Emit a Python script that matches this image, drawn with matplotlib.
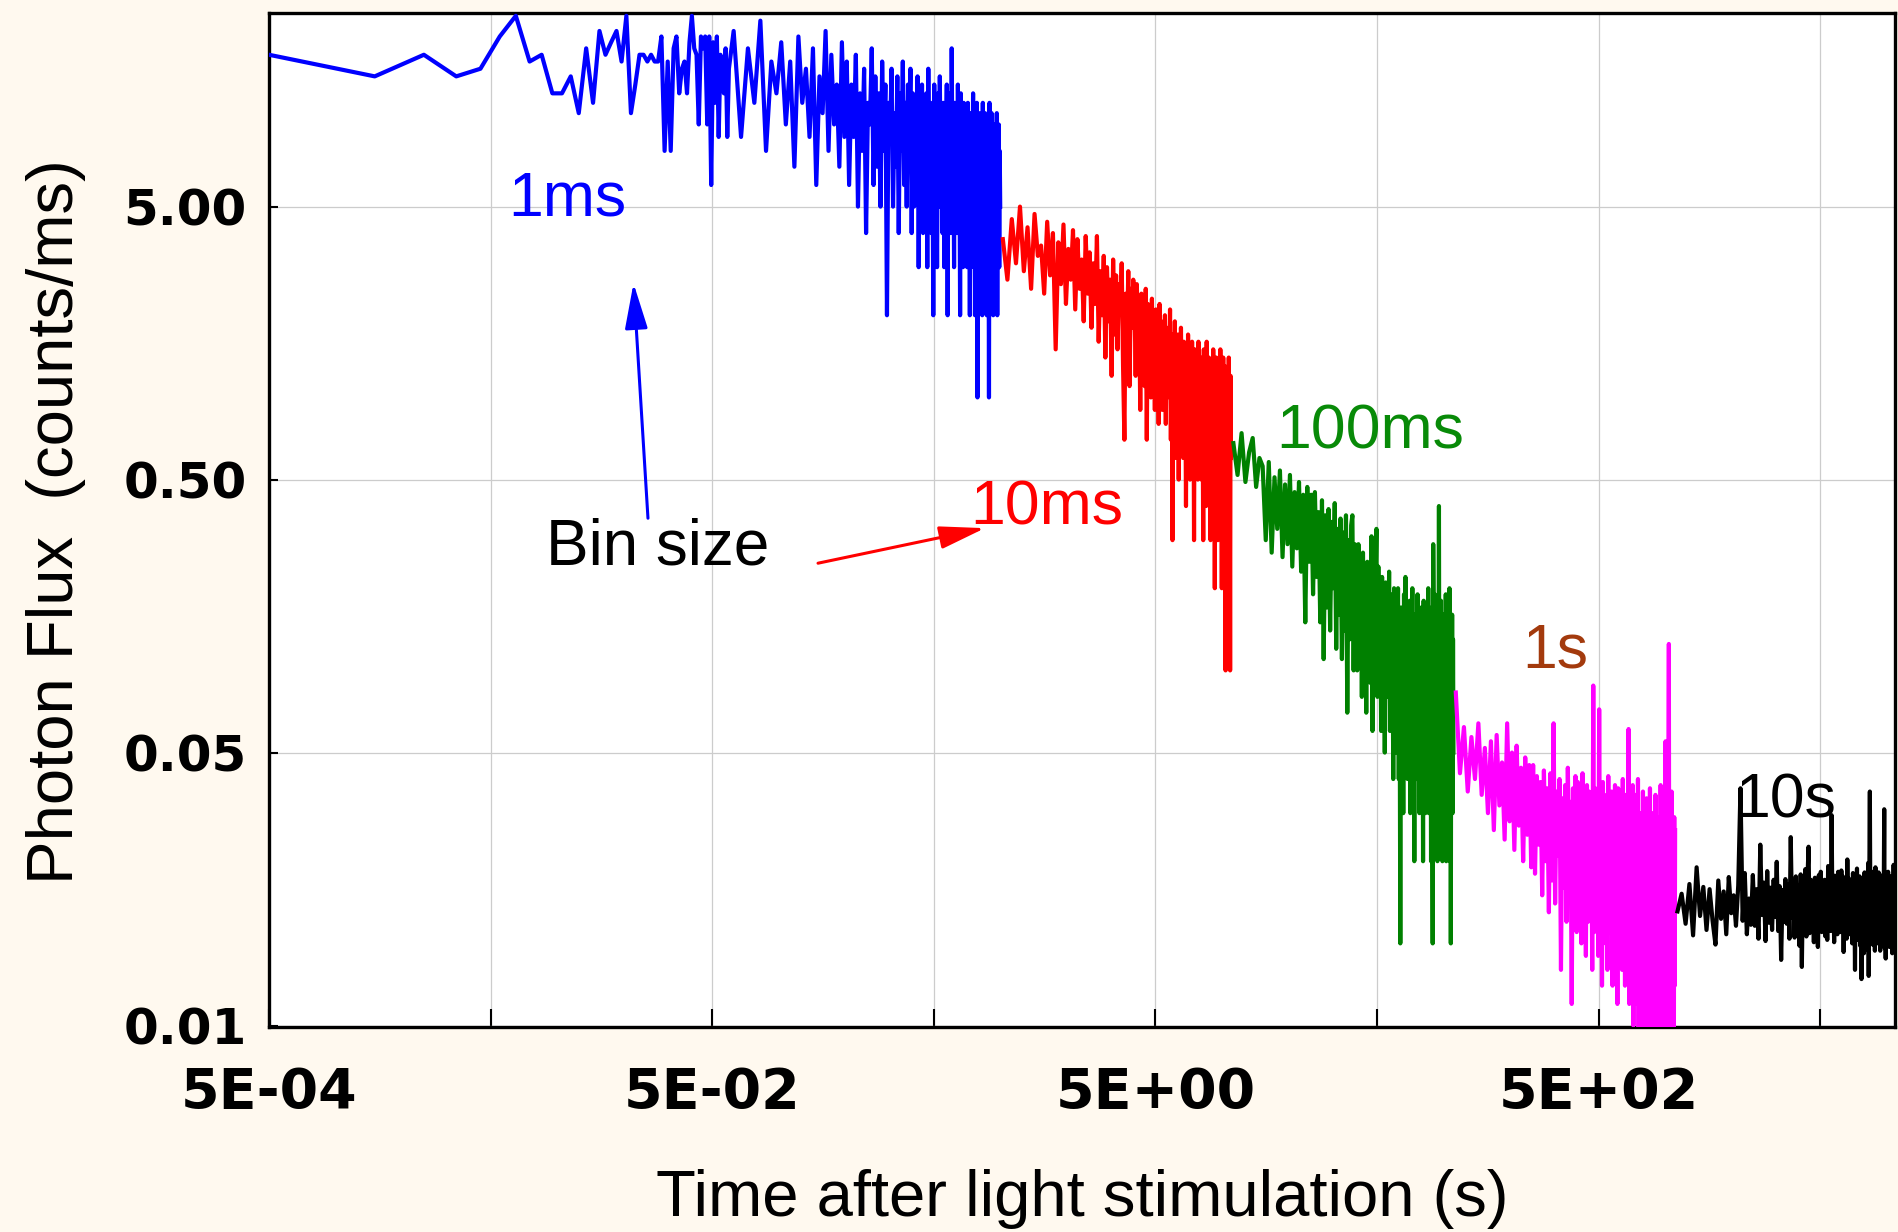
import numpy as np
import matplotlib
matplotlib.use("Agg")
import matplotlib.pyplot as plt
from matplotlib.ticker import NullLocator, NullFormatter

plt.rcParams['font.family'] = 'Liberation Sans'

# photon counts per bin; each list starts at its own time and is sampled evenly
# 1 ms bins, first 60 ms (every bin)
blue_early = [18, 15, 18, 15, 16, 21, 25, 17, 18, 13,
              13, 15, 11, 19, 12, 22, 18, 20, 22, 17,
              25, 11, 14, 18, 18, 17, 18, 17, 17, 21,
              8, 17, 8, 19, 21, 13, 16, 17, 13, 20,
              25, 19, 18, 10, 21, 19, 21, 10, 21, 6,
              20, 12, 21, 9, 18, 15, 13, 19, 9, 16]
# 1 ms bins, 60 ms - 1 s (every 5th bin)
blue_late = [22, 9, 19, 12, 24, 8, 17, 13,
             20, 10, 17, 7, 21, 12, 16, 9, 19, 6, 15, 11, 22, 8, 18, 10, 14, 7, 20, 9,
             17, 6, 14, 9, 18, 5, 13, 8, 16, 4, 12, 10, 19, 6, 15, 7, 13, 5, 17, 8, 14, 2,
             12, 9, 16, 5, 11, 7, 15, 4, 13, 8, 17, 6, 12, 5, 14, 9, 16, 4,
             13, 5, 11, 7, 15, 3, 12, 6, 14, 4, 10, 8, 13, 3, 16, 6, 11, 4, 12, 2,
             14, 7, 10, 3, 13, 5, 15, 6, 9, 4, 12, 3, 11, 7, 14, 2, 10, 5, 13, 4,
             19, 6, 11, 3, 12, 5, 9, 4, 14, 6, 10, 2, 13, 5, 11, 3, 12, 7, 9, 4,
             10, 3, 12, 5, 9, 2, 11, 4, 8, 6, 13, 3, 10, 2, 9, 5, 12, 1, 8, 4,
             11, 3, 10, 6, 9, 2, 12, 4, 7, 3, 11, 5, 9, 2, 10, 3, 8, 1, 12, 4,
             9, 3, 11, 5, 7, 2, 10, 4, 9, 3, 8, 6, 11, 2, 9, 4, 10, 3, 8, 5]
# 10 ms bins, 1 s - 11 s
red_counts = [38, 27, 45, 31, 50, 29, 42, 25, 47, 33,
              36, 24, 44, 28, 40, 15, 37, 26, 43, 22, 35, 27, 41, 21, 38, 25, 32, 19, 39, 24,
              34, 18, 31, 22, 39, 16, 29, 20, 33, 14, 30, 19, 27, 12, 32, 17, 28, 15, 26, 21,
              31, 13, 7, 24, 16, 29, 11, 25, 18, 27,
              23, 12, 26, 15, 21, 9, 24, 14, 20, 11, 25, 7, 22, 13, 19, 10, 23, 12, 18, 9,
              21, 14, 17, 8, 22, 11, 19, 9, 16, 13, 20, 8, 18, 10, 15, 12, 21, 7, 17, 3,
              16, 9, 19, 6, 14, 11, 17, 5, 15, 8, 18, 10, 13, 6, 16, 9, 12, 4, 15, 7,
              17, 8, 11, 5, 14, 9, 16, 6, 13, 3, 15, 7, 12, 10, 14, 5, 16, 8, 11, 6,
              14, 5, 12, 8, 3, 15, 6, 13, 9, 4, 16, 7, 11, 5, 14, 8, 12, 3, 13, 6,
              10, 4, 15, 7, 12, 2, 11, 8, 14, 5, 9, 3, 13, 6, 11, 4, 15, 7, 10, 2,
              12, 5, 14, 3, 9, 6, 13, 1, 11, 4, 12, 7, 10, 2, 14, 5, 9, 1, 12, 6]
# 100 ms bins, 11 s - 111 s
green_counts = [68, 52, 74, 49, 63, 71, 47, 60,
                56, 30, 58, 27, 51, 33, 54, 26, 48, 29, 52, 24, 45, 28, 49, 23, 44, 15, 47, 25,
                44, 19, 45, 22, 38, 15, 42, 11, 37, 17, 39, 14, 35, 20, 41, 12, 33, 16, 36, 11,
                32, 14, 37, 7, 30, 13, 34, 37, 10, 29,
                26, 10, 29, 13, 24, 8, 27, 12, 22, 7, 25, 11, 21, 9, 31, 6, 23, 10, 20, 33,
                8, 24, 9, 19, 6, 22, 11, 18, 5, 21, 8, 17, 10, 23, 6, 19, 9, 16, 4, 20,
                18, 5, 15, 8, 20, 4, 14, 1, 17, 6, 13, 3, 19, 7, 22, 5, 16, 4, 12, 8,
                18, 3, 14, 6, 20, 4, 11, 2, 16, 7, 13, 4, 19, 5, 15, 3, 12, 6, 17, 4,
                14, 2, 18, 5, 11, 3, 16, 6, 13, 4, 20, 3, 15, 5, 12, 2, 17, 4, 1, 29,
                14, 3, 19, 5, 12, 4, 16, 2, 13, 6, 40, 4, 15, 3, 18, 5, 11, 2, 14, 4,
                16, 3, 12, 5, 19, 2, 13, 4, 17, 3, 11, 5, 20, 2, 15, 1, 12, 4, 16, 3, 13, 5]
# 1 s bins, 111 s - 1111 s
magenta_counts = [83, 42, 62, 36, 57, 40, 64, 35,
                  52, 30, 55, 26, 58, 32, 46, 24, 64, 28, 50, 22, 53, 27, 44, 20, 48, 25, 45, 19,
                  45, 18, 41, 23, 39, 15, 43, 20, 37, 13, 42, 17, 64, 14, 36, 21, 40, 8, 34, 16,
                  38, 12, 44, 19, 33, 6, 37, 14, 41, 11,
                  39, 13, 35, 10, 42, 16, 33, 9, 38, 12, 36, 15, 31, 8, 88, 11, 37, 14, 32, 9,
                  72, 12, 34, 7, 39, 13, 30, 10, 35, 8, 41, 11, 29, 14, 36, 7, 33, 12, 38, 9,
                  31, 6, 37, 10, 34, 13, 28, 8, 40, 11, 32, 7, 35, 9, 30, 12, 61, 6, 33, 10,
                  29, 8, 38, 5, 27, 11, 35, 6, 28, 9, 40, 4, 26, 7, 30, 10, 25, 5, 36, 8,
                  27, 6, 29, 4, 34, 9, 24, 5, 28, 7, 37, 3, 26, 8, 30, 5, 27, 10, 25, 4,
                  35, 6, 28, 8, 24, 3, 29, 7, 26, 5, 38, 6, 27, 4, 30, 9, 25, 3, 33, 6,
                  55, 5, 29, 7, 26, 4, 31, 125, 6, 27, 5, 24, 8, 36, 4, 28, 6, 25, 3, 29,
                  7, 26]
# 10 s bins, from 1111 s
black_counts = [131, 152, 118, 165, 107, 190, 126, 161, 112, 158, 121, 99, 170, 123, 155, 108, 175, 129, 150, 116,
                163, 370, 121, 181, 108, 146, 117, 178, 116, 158, 104, 230, 127, 167, 102, 184, 119, 160, 112, 171,
                125, 199, 111, 162, 87, 157, 120, 172, 118, 165, 104, 245, 124, 168, 105, 176, 113, 163, 98, 179,
                82, 169, 121, 187, 106, 174, 226, 109, 171, 117, 163, 101, 174, 128, 156, 97, 178, 122, 183, 110,
                164, 114, 171, 106, 168, 103, 192, 118, 166, 111, 295, 124, 170, 101, 177, 116, 161, 108, 183, 119,
                165, 110, 185, 112, 176, 93, 169, 119, 158, 104, 203, 124, 173, 108, 168, 113, 162, 100, 181, 115,
                164, 80, 172, 111, 188, 103, 157, 114, 176, 98, 169, 74, 153, 106, 167, 92, 182, 105, 171, 118,
                159, 95, 197, 76, 174, 360, 108, 171, 103, 165, 99, 183, 112, 155, 94, 190, 117, 166, 100, 177,
                107, 182, 121, 179, 94, 160, 110, 174, 99, 168, 114, 148, 310, 96, 169, 88, 178, 109, 165, 102,
                183, 113, 171, 97, 165, 119, 176, 103, 158, 92, 174, 109, 194, 101, 167, 97, 162, 111, 173, 106]

bin_labels = ['1ms', '10ms', '100ms', '1s', '10s']


def binned(counts, t0, step, bin_ms):
    # time of each sampled bin (s) and flux in counts/ms
    t = t0 + step * (np.arange(len(counts)) + 0.5)
    return t, np.asarray(counts, dtype=float) / bin_ms


tb1, fb1 = binned(blue_early, 0.0, 0.001, 1)
tb2, fb2 = binned(blue_late, 0.060, 0.005, 1)
t_blue = np.concatenate([tb1, tb2])
f_blue = np.concatenate([fb1, fb2])
t_red, f_red = binned(red_counts, 1.0, 0.05, 10)
t_green, f_green = binned(green_counts, 11.0, 0.5, 100)
t_mag, f_mag = binned(magenta_counts, 111.0, 5.0, 1000)
t_black, f_black = binned(black_counts, 1111.0, 50.0, 10000)

fig = plt.figure(figsize=(18.99, 12.32), dpi=100, facecolor='#FFF9EF')
ax = fig.add_axes([269 / 1899, 1 - 1027 / 1232, 1626 / 1899, 1014 / 1232])
ax.set_facecolor('white')

lw = 3.0
ax.plot(t_blue, f_blue, color='#0000FF', lw=lw, zorder=3)
ax.plot(t_red, f_red, color='#FF0000', lw=lw, zorder=3)
ax.plot(t_green, f_green, color='#008000', lw=lw, zorder=3)
ax.plot(t_mag, f_mag, color='#FF00FF', lw=lw, zorder=3)
ax.plot(t_black, f_black, color='black', lw=lw, zorder=3)

ax.set_xscale('log')
ax.set_yscale('log')
ax.set_xlim(5e-4, 1.089e4)
ax.set_ylim(0.00494, 25.6)

ax.set_xticks([5e-4, 5e-2, 5, 500], ['5E-04', '5E-02', '5E+00', '5E+02'])
ax.set_xticks([5e-3, 0.5, 50, 5000], minor=True)
ax.xaxis.set_minor_formatter(NullFormatter())
ax.set_yticks([0.005, 0.05, 0.5, 5], ['0.01', '0.05', '0.50', '5.00'])
ax.yaxis.set_minor_locator(NullLocator())

ax.tick_params(axis='x', which='both', direction='in', length=13, width=1.5,
               pad=28, labelsize=40)
ax.tick_params(axis='y', which='major', direction='in', length=6.5, width=1.5,
               pad=16, labelsize=36)
for lbl in ax.get_xticklabels() + ax.get_yticklabels():
    lbl.set_fontfamily('DejaVu Sans')
    lbl.set_fontweight('bold')

ax.set_axisbelow(True)
ax.grid(True, axis='x', which='both', color='#CCCCCC', lw=0.9)
ax.grid(True, axis='y', which='major', color='#CCCCCC', lw=0.9)
for s in ax.spines.values():
    s.set_linewidth(2.4)
    s.set_color('black')

fig.text(1082 / 1899, 16 / 1232, 'Time after light stimulation (s)',
         ha='center', va='baseline', fontsize=47)
fig.text(26 / 1899, 0.5763, 'Photon Flux  (counts/ms)', rotation=90,
         ha='left', va='center', fontsize=47)

# bin size labels
ax.text(0.00599, 4.63, bin_labels[0], color='#0000FF', fontsize=45, zorder=5)
ax.text(0.728, 0.341, bin_labels[1], color='#FF0000', fontsize=45, zorder=5)
ax.text(17.5, 0.652, bin_labels[2], color='#088A08', fontsize=45, zorder=5)
ax.text(225.6, 0.1028, bin_labels[3], color='#A33A0D', fontsize=45, zorder=5)
ax.text(2063, 0.029, bin_labels[4], color='black', fontsize=45, zorder=5)
ax.text(0.00889, 0.245, 'Bin size', color='black', fontsize=46, zorder=5)

ax.annotate('', xy=(0.02208, 2.62), xytext=(0.02566, 0.361),
            arrowprops=dict(arrowstyle='-|>,head_length=28,head_width=7',
                            mutation_scale=1, color='#0000FF', lw=2.2,
                            shrinkA=0, shrinkB=0), zorder=5)
ax.annotate('', xy=(0.851, 0.332), xytext=(0.1502, 0.247),
            arrowprops=dict(arrowstyle='-|>,head_length=28,head_width=7',
                            mutation_scale=1, color='#FF0000', lw=2.2,
                            shrinkA=0, shrinkB=0), zorder=5)

fig.savefig('out.png', dpi=100, facecolor=fig.get_facecolor())
